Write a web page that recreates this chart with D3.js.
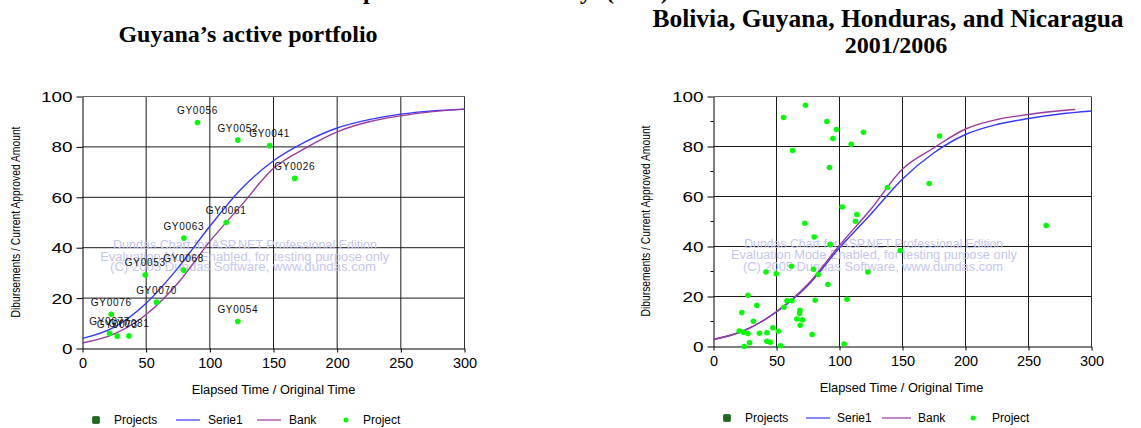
<!DOCTYPE html>
<html><head><meta charset="utf-8">
<script src="https://cdn.jsdelivr.net/npm/d3@7"></script>
<style>
html,body{margin:0;padding:0;background:#fff;overflow:hidden}
svg{display:block}
</style></head><body>
<svg id="c" width="1141" height="428"></svg>
<script>
// ---------- data ----------
const xTicks = [0, 50, 100, 150, 200, 250, 300];
const yTicks = [0, 20, 40, 60, 80, 100];
const xTitle = "Elapsed Time / Original Time";
const yTitle = "Dibursements / Current Approved Amount";
const legendLabels = ["Projects", "Serie1", "Bank", "Project"];
const watermarkLines = [
  "Dundas Chart for ASP.NET Professional Edition",
  "Evaluation Mode Enabled, for testing purpose only",
  "(C) 2005 Dundas Software, www.dundas.com"
];

// Left chart: Guyana's active portfolio
const leftTitle = "Guyana\u2019s active portfolio";
const leftCurveX   = [0, 25, 50, 75, 100, 125, 150, 175, 200, 225, 250, 275, 300];
const leftSerie1   = [4, 8.5, 18, 32, 48.5, 63.5, 74.5, 82, 87.5, 90.8, 93, 94.3, 95];
const leftBank     = [2.2, 5.8, 13.5, 26, 42.5, 57, 71.5, 79.5, 86, 90, 92.3, 94, 95];
const leftProjectIds = ["GY0056","GY0052","GY0041","GY0026","GY0061","GY0063","GY0053","GY0068","GY0070","GY0054","GY0076","GY0077","GY0073","GY0081"];
const leftProjectX   = [90.3, 122, 147, 166.7, 112.8, 79.6, 49.3, 79.4, 58.2, 122, 22.6, 21.3, 27.3, 36.5];
const leftProjectY   = [89.7, 82.7, 80.5, 67.5, 50, 43.8, 29.2, 31.1, 18.4, 10.7, 13.6, 6, 4.9, 5];

// Right chart: Bolivia, Guyana, Honduras, and Nicaragua 2001/2006
const rightTitle1 = "Bolivia, Guyana, Honduras, and Nicaragua";
const rightTitle2 = "2001/2006";
const rightSerie1X = [0, 25, 50, 75, 100, 125, 150, 175, 200, 225, 250, 275, 300];
const rightSerie1  = [2.8, 6.5, 13.8, 24.5, 39.5, 53, 67, 77.5, 84.8, 88.8, 91.2, 93, 94.2];
const rightBankX   = [0, 25, 50, 75, 100, 125, 150, 175, 200, 225, 250, 275, 287];
const rightBank    = [2.8, 6.5, 14, 25, 40.5, 55, 71, 79.5, 87, 90.8, 92.8, 94.3, 94.8];
const rightProjectX = [55.6, 73, 90, 97.6, 94.8, 119, 109.3, 62.7, 92, 138, 102.1, 113.8, 112.7, 72.5, 79.9, 92.6, 148.2, 61.9, 79.4, 83.1,
  41.6, 49.8, 122.5, 90.8, 27.3, 80.7, 105.9, 58.3, 62.2, 55.9, 34.4, 22.5, 68.6, 68.3, 66.2, 70.6, 68.8, 31.7, 20.4, 23.8,
  27.3, 36.5, 42.4, 47.1, 51.4, 42.4, 45, 28.6, 24.4, 53.2, 78.3, 103.7, 179.4, 171.2, 264];
const rightProjectY = [91.6, 96.5, 90, 86.8, 83.2, 85.7, 80.9, 78.4, 71.6, 63.6, 55.8, 52.8, 50.1, 49.3, 43.8, 40.8, 38.4, 32.1, 30.9, 28.8,
  29.8, 29.1, 29.8, 24.8, 20.5, 18.5, 18.9, 18.3, 18.3, 15.7, 16.4, 13.6, 14.5, 13.2, 11, 10.7, 8.5, 10.1, 6.2, 5.7,
  5.2, 5.3, 5.5, 7.5, 6.1, 2.1, 1.7, 1.5, 0, 0.3, 4.8, 1, 84.2, 65.2, 48.4];

// ---------- drawing ----------
const svg = d3.select("#c");
const SANS = "'Liberation Sans', Arial, sans-serif";
const SERIF = "'Liberation Serif', 'Times New Roman', serif";
const BLUE = "#3838ff", PURPLE = "#9a3a9e", GREEN = "#00ff00";

// clipped previous title line (only descenders visible)
svg.append("text").attr("x", 358).attr("y", -1.5).attr("text-anchor", "end")
  .attr("font-family", SERIF).attr("font-weight", "bold").attr("font-size", 24).text("Disbursement");
svg.append("text").attr("x", 363).attr("y", -1.5)
  .attr("font-family", SERIF).attr("font-weight", "bold").attr("font-size", 24).text("profile");
svg.append("text").attr("x", 592).attr("y", -1.5).attr("text-anchor", "end")
  .attr("font-family", SERIF).attr("font-weight", "bold").attr("font-size", 24).text("Profile by");
svg.append("text").attr("x", 606).attr("y", -1.5)
  .attr("font-family", SERIF).attr("font-weight", "bold").attr("font-size", 24).text("(FSO)");

// titles
svg.append("text").attr("x", 248).attr("y", 42).attr("text-anchor", "middle")
  .attr("font-family", SERIF).attr("font-weight", "bold").attr("font-size", 24).text(leftTitle);
svg.append("text").attr("x", 888).attr("y", 27).attr("text-anchor", "middle")
  .attr("font-family", SERIF).attr("font-weight", "bold").attr("font-size", 25.5).text(rightTitle1);
svg.append("text").attr("x", 896).attr("y", 53).attr("text-anchor", "middle")
  .attr("font-family", SERIF).attr("font-weight", "bold").attr("font-size", 24).text(rightTitle2);

function drawPanel(p) {
  const g = svg.append("g");
  const x = d3.scaleLinear().domain([0, 300]).range([p.x0, p.x1]);
  const y = d3.scaleLinear().domain([0, 100]).range([p.y1, p.y0]);

  // grid
  g.append("g").selectAll("line").data(xTicks.filter(d => d > 0 && d < 300)).join("line")
    .attr("x1", d => x(d)).attr("x2", d => x(d)).attr("y1", p.y0).attr("y2", p.y1)
    .attr("stroke", "#1a1a1a").attr("stroke-width", 1);
  g.append("g").selectAll("line").data(yTicks.filter(d => d > 0 && d < 100)).join("line")
    .attr("y1", d => y(d)).attr("y2", d => y(d)).attr("x1", p.x0).attr("x2", p.x1)
    .attr("stroke", "#1a1a1a").attr("stroke-width", 1);
  // frame top / right
  g.append("line").attr("x1", p.x0).attr("x2", p.x1).attr("y1", y(100)).attr("y2", y(100)).attr("stroke", "#666");
  g.append("line").attr("x1", x(300)).attr("x2", x(300)).attr("y1", p.y0).attr("y2", p.y1).attr("stroke", "#333");

  // watermark
  const wm = g.append("g").attr("fill", "#c6c6ee").attr("font-family", SANS).attr("font-size", 12);
  watermarkLines.forEach((t, i) => {
    wm.append("text").attr("x", p.wmX[i]).attr("y", p.wmY[i]).attr("text-anchor", "middle")
      .attr("textLength", p.wmW[i]).attr("lengthAdjust", "spacingAndGlyphs").text(t);
  });

  // axes
  const ya = g.append("g").attr("transform", `translate(${p.x0},0)`)
    .call(d3.axisLeft(y).tickValues(yTicks).tickSize(6).tickSizeOuter(0).tickPadding(4));
  ya.select(".domain").attr("stroke", "#000");
  ya.selectAll(".tick line").attr("stroke", "#000");
  ya.selectAll(".tick text").attr("font-family", SANS).attr("font-size", 15.5).attr("fill", "#000")
    .attr("textLength", d => String(d).length * 10.5).attr("lengthAdjust", "spacingAndGlyphs");
  if (p.minor) {
    g.append("g").selectAll("line").data(yTicks.slice(0, -1).map(d => d + 10)).join("line")
      .attr("x1", p.x0 - 3).attr("x2", p.x0).attr("y1", d => y(d)).attr("y2", d => y(d)).attr("stroke", "#000");
  }
  const xa = g.append("g").attr("transform", `translate(0,${p.y1})`)
    .call(d3.axisBottom(x).tickValues(xTicks).tickSize(4).tickSizeOuter(0).tickPadding(5));
  xa.select(".domain").attr("stroke", "#000");
  xa.selectAll(".tick line").attr("stroke", "#000");
  xa.selectAll(".tick text").attr("font-family", SANS).attr("font-size", 14.5).attr("fill", "#000");

  // axis titles
  g.append("text").attr("x", p.xtX).attr("y", p.xtY).attr("text-anchor", "middle")
    .attr("font-family", SANS).attr("font-size", 12.8).attr("fill", "#000").text(xTitle);
  g.append("text").attr("transform", `translate(${p.ytX},${p.ytY}) rotate(-90)`).attr("text-anchor", "middle")
    .attr("font-family", SANS).attr("font-size", 12).attr("fill", "#000")
    .attr("textLength", 191).attr("lengthAdjust", "spacingAndGlyphs").text(yTitle);

  // curves
  const line = d3.line().x(d => x(d[0])).y(d => y(d[1])).curve(d3.curveMonotoneX);
  g.append("path").datum(d3.zip(p.s1x, p.s1)).attr("d", line)
    .attr("fill", "none").attr("stroke", BLUE).attr("stroke-width", 1.4);
  g.append("path").datum(d3.zip(p.bx, p.b)).attr("d", line)
    .attr("fill", "none").attr("stroke", PURPLE).attr("stroke-width", 1.4);

  // points
  const pts = d3.zip(p.px, p.py);
  g.append("g").selectAll("circle").data(pts).join("circle")
    .attr("cx", d => x(d[0])).attr("cy", d => y(d[1])).attr("r", 2.8).attr("fill", GREEN);
  if (p.ids) {
    g.append("g").selectAll("text").data(pts).join("text")
      .attr("x", d => x(d[0])).attr("y", d => y(d[1]) - 8.5).attr("text-anchor", "middle")
      .attr("font-family", SANS).attr("font-size", 10).attr("letter-spacing", 0.7).attr("fill", "#111")
      .text((d, i) => p.ids[i]);
  }

  // legend
  const lg = g.append("g").attr("font-family", SANS).attr("font-size", 12).attr("fill", "#000");
  const L = p.leg, ly = p.legY;
  lg.append("rect").attr("x", L[0] - 3.5).attr("y", ly - 3.5).attr("width", 7).attr("height", 7)
    .attr("rx", 1).attr("fill", "#1e6b1e").attr("stroke", "#0b450b").attr("stroke-width", 0.6);
  lg.append("text").attr("x", L[1]).attr("y", ly + 4).text(legendLabels[0]);
  lg.append("line").attr("x1", L[2]).attr("x2", L[3]).attr("y1", ly).attr("y2", ly).attr("stroke", BLUE).attr("stroke-width", 1.2);
  lg.append("text").attr("x", L[4]).attr("y", ly + 4).text(legendLabels[1]);
  lg.append("line").attr("x1", L[5]).attr("x2", L[6]).attr("y1", ly).attr("y2", ly).attr("stroke", PURPLE).attr("stroke-width", 1.2);
  lg.append("text").attr("x", L[7]).attr("y", ly + 4).text(legendLabels[2]);
  lg.append("circle").attr("cx", L[8]).attr("cy", ly).attr("r", 2.5).attr("fill", GREEN);
  lg.append("text").attr("x", L[9]).attr("y", ly + 4).text(legendLabels[3]);
}

drawPanel({
  x0: 82.5, x1: 464.5, y0: 96.5, y1: 348.5,
  s1x: leftCurveX, s1: leftSerie1, bx: leftCurveX, b: leftBank,
  px: leftProjectX, py: leftProjectY, ids: leftProjectIds,
  wmX: [245, 244.7, 243], wmY: [249, 261, 271], wmW: [264, 289, 266],
  xtX: 273.5, xtY: 394, ytX: 20, ytY: 222,
  leg: [96, 114, 176, 200, 208, 257, 281, 289, 346, 363], legY: 420,
  minor: false
});
drawPanel({
  x0: 713.5, x1: 1091.5, y0: 96.5, y1: 346.5,
  s1x: rightSerie1X, s1: rightSerie1, bx: rightBankX, b: rightBank,
  px: rightProjectX, py: rightProjectY, ids: null,
  wmX: [873.7, 874, 873], wmY: [247.5, 259, 271], wmW: [259, 286, 260],
  xtX: 901.5, xtY: 392, ytX: 650, ytY: 221,
  leg: [727, 745, 806, 830, 837, 882, 911, 918, 973, 992], legY: 418,
  minor: true
});
</script>
</body></html>
